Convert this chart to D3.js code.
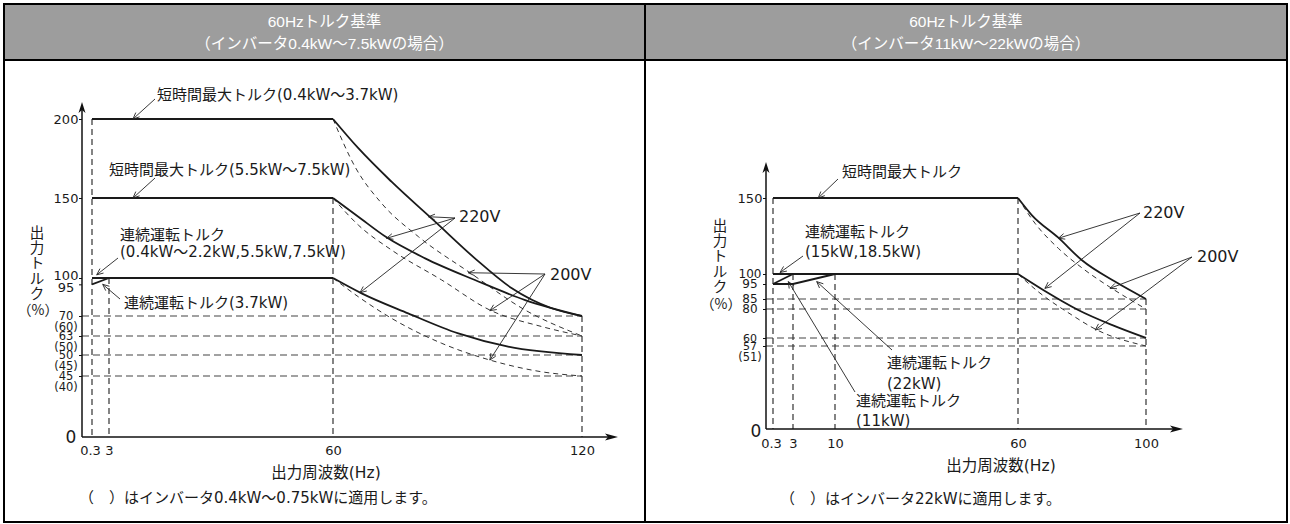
<!DOCTYPE html>
<html><head><meta charset="utf-8">
<script src="https://cdn.jsdelivr.net/npm/d3@7"></script>
<style>
body{margin:0;background:#fff;}
svg text{font-family:"DejaVu Sans","Noto Sans CJK JP",sans-serif;fill:#1a1a1a;}
</style></head><body>
<svg id="c" width="1290" height="524"></svg>
<script>
// ================= DATA =================
const headerLeft  = ["60Hzトルク基準", "（インバータ0.4kW〜7.5kWの場合）"];
const headerRight = ["60Hzトルク基準", "（インバータ11kW〜22kWの場合）"];
const yTitleChars = ["出","力","ト","ル","ク"];
const yTitleUnit  = "（%）";
const xTitle      = "出力周波数(Hz)";
const footLeft    = "（　）はインバータ0.4kW〜0.75kWに適用します。";
const footRight   = "（　）はインバータ22kWに適用します。";

// ---- left panel (0.4kW - 7.5kW) ----
const L_xTicks       = [0.3, 3, 60, 120];
const L_xTickLabels  = ["0.3", "3", "60", "120"];
const L_yTicks       = [200, 150, 100, 95, 70, 63, 50, 45];
const L_yParenOf     = [70, 63, 50, 45];
const L_yParenLabels = ["(60)", "(50)", "(45)", "(40)"];
const L_hDashed      = [70, 63, 50, 45];
const L_vDashed      = [[0.3, 200], [3, 100], [60, 150], [120, 70]];
const L_flatSolid = [
  [[0.3, 200], [60, 200]],
  [[0.3, 150], [60, 150]],
  [[0.3, 100], [60, 100]],
  [[0.3, 95], [3, 100]]
];
const L_curve220 = [
  [[60,200],[66.1,181.5],[74.1,160.3],[84.6,135.2],[94.2,112.3],[103.1,91.9],[112.7,76.1],[120,70]],
  [[60,150],[66.1,138.3],[72.9,125.4],[82.2,112.3],[94.2,98.4],[106.3,82.6],[120,70]],
  [[60,100],[66.9,87.9],[78.1,72.1],[90.2,63.9],[102.2,55.7],[120,50]]
];
const L_curve200 = [
  [[60,200],[65.3,169.8],[71.7,146.7],[80.6,125.8],[93.0,103.3],[106.3,74.7],[120,63]],
  [[60,150],[66.1,133.1],[74.1,117.5],[86.2,98.4],[97.8,74.7],[110.3,66.3],[120,63]],
  [[60,100],[66.1,85.2],[74.1,69.2],[86.2,58.0],[97.8,48.8],[110.3,46.0],[120,45]]
];
const L_noteText = [
  ["短時間最大トルク(0.4kW〜3.7kW)"],
  ["短時間最大トルク(5.5kW〜7.5kW)"],
  ["連続運転トルク", "(0.4kW〜2.2kW,5.5kW,7.5kW)"],
  ["連続運転トルク(3.7kW)"],
  ["220V"],
  ["200V"]
];
const L_noteTips = [
  [[9.1, 200]],
  [[9.1, 150]],
  [[1.05, 102]],
  [[2.0, 95]],
  [[83.0, 138.3], [72.9, 124.8], [66.5, 88.4]],
  [[92.6, 103.3], [97.8, 74.2], [97.8, 48.8]]
];

// ---- right panel (11kW - 22kW) ----
const R_xTicks       = [0.3, 3, 10, 60, 100];
const R_xTickLabels  = ["0.3", "3", "10", "60", "100"];
const R_yTicks       = [150, 100, 95, 85, 80, 60, 57];
const R_yParenOf     = [57];
const R_yParenLabels = ["(51)"];
const R_hDashed      = [85, 80, 60, 57];
const R_vDashed      = [[0.3, 150], [3, 100], [10, 100], [60, 150], [100, 85]];
const R_flatSolid = [
  [[0.3, 150], [60, 150]],
  [[0.3, 100], [60, 100]],
  [[0.3, 95], [3, 100]],
  [[0.3, 95], [3, 95], [10, 100]]
];
const R_curve220 = [
  [[60,150],[64.3,138.8],[72.6,123.9],[79.9,109.2],[90.3,96.2],[100,85]],
  [[60,100],[68.4,90.3],[78.8,79.3],[89.3,69.0],[100,60]]
];
const R_curve200 = [
  [[60,150],[65.3,133.4],[72.6,116.9],[80.9,102.6],[89.3,92.1],[100,80]],
  [[60,100],[66.3,89.9],[76.8,75.9],[84.1,66.2],[100,57]]
];
const R_noteText = [
  ["短時間最大トルク"],
  ["連続運転トルク", "(15kW,18.5kW)"],
  ["連続運転トルク", "(22kW)"],
  ["連続運転トルク", "(11kW)"],
  ["220V"],
  ["200V"]
];
const R_noteTips = [
  [[7.2, 150]],
  [[1.25, 101]],
  [[6.95, 96.2]],
  [[2.37, 96.2]],
  [[72.6, 123.5], [68.4, 92.1]],
  [[88.75, 92.1], [84.1, 65.5]]
];

// ================= LAYOUT =================
const svg = d3.select("#c");
const BORDER = {x0: 4, x1: 1287, y0: 4, y1: 522, mid: 645, head: 60};

const panels = [
  {
    header: headerLeft, foot: footLeft,
    x: d3.scaleLinear().domain([0, 0.3, 3, 60, 120]).range([82, 92, 109, 333, 582]),
    y: d3.scaleLinear().domain([0, 45, 50, 63, 70, 100, 150, 200]).range([437, 376, 355, 336, 316, 278, 198, 119]),
    xMax: 120, yArrowTop: 102, xArrowEnd: 618,
    xTicks: L_xTicks, xTickLabels: L_xTickLabels,
    yTicks: L_yTicks, yParenOf: L_yParenOf, yParenLabels: L_yParenLabels,
    hDashed: L_hDashed, vDashed: L_vDashed, flat: L_flatSolid,
    c220: L_curve220, c200: L_curve200,
    noteText: L_noteText, noteTips: L_noteTips,
    noteLayout: [
      {x: 157, y: 95,  tail: [155, 99]},
      {x: 109, y: 170, tail: [155, 178]},
      {x: 120, y: 235, lh: 17, tail: [118, 258]},
      {x: 124, y: 303, tail: [120, 299]},
      {x: 459, y: 216, tail: [455, 218], big: true},
      {x: 550, y: 274, tail: [545, 274], big: true}
    ],
    yLabelX: 66, zeroX: 71, zeroDy: 0, yTitleX: 37, yTitleY0: 233, yUnitY: 310,
    xLabelY: 450, xTitleX: 326, xTitleY: 473, footX: 79, footY: 498,
    yNudge: {100: -3, 95: 3},
    ySize: (v) => v >= 95 ? 13 : 11.5
  },
  {
    header: headerRight, foot: footRight,
    x: d3.scaleLinear().domain([0, 0.3, 3, 10, 60, 100]).range([766, 773, 793, 835, 1018, 1146]),
    y: d3.scaleLinear().domain([0, 57, 60, 80, 85, 95, 100, 150]).range([429, 346, 338, 309, 299, 284, 274, 198]),
    xMax: 100, yArrowTop: 162, xArrowEnd: 1183,
    xTicks: R_xTicks, xTickLabels: R_xTickLabels,
    yTicks: R_yTicks, yParenOf: R_yParenOf, yParenLabels: R_yParenLabels,
    hDashed: R_hDashed, vDashed: R_vDashed, flat: R_flatSolid,
    c220: R_curve220, c200: R_curve200,
    noteText: R_noteText, noteTips: R_noteTips,
    noteLayout: [
      {x: 842, y: 172, tail: [838, 179]},
      {x: 805, y: 232, lh: 20, tail: [803, 256]},
      {x: 887, y: 363, lh: 20.5, tail: [892, 350]},
      {x: 856, y: 401, lh: 20, tail: [855, 392]},
      {x: 1143, y: 212, tail: [1140, 213], big: true},
      {x: 1197, y: 256, tail: [1192, 257], big: true}
    ],
    yLabelX: 750, zeroX: 756, zeroDy: 2, yTitleX: 720, yTitleY0: 226, yUnitY: 304,
    xLabelY: 443, xTitleX: 1001, xTitleY: 466, footX: 780, footY: 499,
    yNudge: {},
    ySize: (v) => (v === 150 ? 13 : v >= 80 ? 12 : 11)
  }
];

// ---- frame & headers ----
const frame = svg.append("g");
frame.append("rect").attr("x", BORDER.x0).attr("y", BORDER.y0)
  .attr("width", BORDER.mid - BORDER.x0).attr("height", BORDER.head - BORDER.y0).attr("fill", "#9d9d9d");
frame.append("rect").attr("x", BORDER.mid).attr("y", BORDER.y0)
  .attr("width", BORDER.x1 - BORDER.mid).attr("height", BORDER.head - BORDER.y0).attr("fill", "#9d9d9d");
[[headerLeft, (BORDER.x0 + BORDER.mid) / 2], [headerRight, (BORDER.mid + BORDER.x1) / 2]].forEach(([lines, cx]) => {
  lines.forEach((t, i) => {
    frame.append("text").attr("x", cx).attr("y", 22 + i * 22).attr("dy", "0.35em")
      .attr("text-anchor", "middle").style("font-size", "15.5px")
      .style("font-family", "'Liberation Sans','Noto Sans CJK JP',sans-serif")
      .style("fill", "#fff").text(t);
  });
});

// ---- panels ----
const line = d3.line();
panels.forEach(p => {
  const g = svg.append("g");
  const X = p.x, Y = p.y;
  const x0 = X(0), y0 = Y(0);

  // horizontal dashed reference lines
  g.selectAll(".hd").data(p.hDashed).join("line")
    .attr("x1", x0).attr("x2", X(p.xMax)).attr("y1", d => Y(d)).attr("y2", d => Y(d))
    .attr("stroke", "#444").attr("stroke-width", 1.2).attr("stroke-dasharray", "7,4");
  // vertical dashed reference lines
  g.selectAll(".vd").data(p.vDashed).join("line")
    .attr("x1", d => X(d[0])).attr("x2", d => X(d[0])).attr("y1", d => Y(d[1])).attr("y2", y0)
    .attr("stroke", "#333").attr("stroke-width", 1.2).attr("stroke-dasharray", "6,4");

  // 200V dashed curves
  const curveGen = d3.line().x(d => X(d[0])).y(d => Y(d[1])).curve(d3.curveMonotoneX);
  g.selectAll(".c200").data(p.c200).join("path")
    .attr("d", curveGen).attr("fill", "none").attr("stroke", "#333")
    .attr("stroke-width", 1).attr("stroke-dasharray", "5,4");
  // 220V solid curves
  g.selectAll(".c220").data(p.c220).join("path")
    .attr("d", curveGen).attr("fill", "none").attr("stroke", "#1a1a1a").attr("stroke-width", 1.8);
  // flat solid segments
  const linGen = d3.line().x(d => X(d[0])).y(d => Y(d[1]));
  g.selectAll(".flat").data(p.flat).join("path")
    .attr("d", linGen).attr("fill", "none").attr("stroke", "#1a1a1a").attr("stroke-width", 1.8);

  // axes lines + arrows
  g.append("line").attr("x1", x0).attr("x2", x0).attr("y1", y0).attr("y2", p.yArrowTop + 6)
    .attr("stroke", "#111").attr("stroke-width", 1.5);
  g.append("path").attr("d", `M${x0},${p.yArrowTop} L${x0 - 3.5},${p.yArrowTop + 11} L${x0},${p.yArrowTop + 8} L${x0 + 3.5},${p.yArrowTop + 11}Z`).attr("fill", "#111");
  g.append("line").attr("x1", x0).attr("x2", p.xArrowEnd - 6).attr("y1", y0).attr("y2", y0)
    .attr("stroke", "#111").attr("stroke-width", 1.5);
  g.append("path").attr("d", `M${p.xArrowEnd},${y0} L${p.xArrowEnd - 13},${y0 - 3.5} L${p.xArrowEnd - 10},${y0} L${p.xArrowEnd - 13},${y0 + 3.5}Z`).attr("fill", "#111");

  // x axis tick labels via d3 axis
  const xa = g.append("g").attr("transform", `translate(0,${y0})`)
    .call(d3.axisBottom(X).tickValues(p.xTicks).tickSize(0)
      .tickFormat((d, i) => p.xTickLabels[i]));
  xa.select(".domain").remove();
  xa.selectAll("text").style("font-size", "13px").attr("fill", "#1a1a1a")
    .attr("dy", "0.35em").attr("y", p.xLabelY - y0)
    .attr("x", d => d === 0.3 ? -2 : 0);

  // y axis tick labels via d3 axis
  const ya = g.append("g").attr("transform", `translate(${x0},0)`)
    .call(d3.axisLeft(Y).tickValues(p.yTicks).tickSize(3).tickPadding(4).tickFormat(d3.format("d")));
  ya.select(".domain").remove();
  ya.selectAll("line").attr("stroke", "#111");
  ya.selectAll("text").attr("text-anchor", "middle").attr("x", p.yLabelX - x0)
    .attr("y", d => p.yNudge[d] || 0)
    .style("font-size", d => p.ySize(d) + "px").attr("fill", "#1a1a1a");
  // parenthesised values
  g.selectAll(".par").data(p.yParenOf).join("text")
    .attr("x", p.yLabelX).attr("y", d => Y(d) + 10.5).attr("dy", "0.35em")
    .attr("text-anchor", "middle").style("font-size", "11.5px").text((d, i) => p.yParenLabels[i]);
  // origin 0
  g.append("text").attr("x", p.zeroX).attr("y", y0 + p.zeroDy).attr("dy", "0.35em")
    .attr("text-anchor", "middle").style("font-size", "17px").text(d3.format("d")(Y.domain()[0]));

  // y axis title (vertical)
  yTitleChars.forEach((ch, i) => {
    g.append("text").attr("x", p.yTitleX).attr("y", p.yTitleY0 + i * 15.2).attr("dy", "0.35em")
      .attr("text-anchor", "middle").style("font-size", "14.5px").style("font-family", "Noto Sans CJK JP").text(ch);
  });
  g.append("text").attr("x", p.yTitleX + 1).attr("y", p.yUnitY).attr("dy", "0.35em")
    .attr("text-anchor", "middle").style("font-size", "14px").style("font-family", "Noto Sans CJK JP").text(yTitleUnit);

  // x title & footnote
  g.append("text").attr("x", p.xTitleX).attr("y", p.xTitleY).attr("dy", "0.35em")
    .attr("text-anchor", "middle").style("font-size", "15.5px").text(xTitle);
  g.append("text").attr("x", p.footX).attr("y", p.footY).attr("dy", "0.35em")
    .style("font-size", "15px").text(p.foot);

  // annotations with leader arrows
  p.noteText.forEach((lines, i) => {
    const L = p.noteLayout[i];
    lines.forEach((t, j) => {
      g.append("text").attr("x", L.x).attr("y", L.y + j * (L.lh || 18)).attr("dy", "0.35em")
        .style("font-size", L.big ? "16px" : "15px").text(t);
    });
    p.noteTips[i].forEach(tip => {
      const tx = X(tip[0]), ty = Y(tip[1]);
      const [sx, sy] = L.tail;
      g.append("line").attr("x1", sx).attr("y1", sy).attr("x2", tx).attr("y2", ty)
        .attr("stroke", "#222").attr("stroke-width", 0.9);
      const ang = Math.atan2(ty - sy, tx - sx);
      const a = 0.42, len = 7;
      const p1 = [tx - len * Math.cos(ang - a), ty - len * Math.sin(ang - a)];
      const p2 = [tx - len * Math.cos(ang + a), ty - len * Math.sin(ang + a)];
      g.append("path").attr("d", line([p1, [tx, ty], p2])).attr("fill", "none")
        .attr("stroke", "#222").attr("stroke-width", 0.9);
    });
  });
});

// ---- borders on top ----
const bd = svg.append("g").attr("stroke", "#000").attr("stroke-width", 2).attr("fill", "none");
bd.append("rect").attr("x", BORDER.x0).attr("y", BORDER.y0)
  .attr("width", BORDER.x1 - BORDER.x0).attr("height", BORDER.y1 - BORDER.y0);
bd.append("line").attr("x1", BORDER.x0).attr("x2", BORDER.x1).attr("y1", BORDER.head).attr("y2", BORDER.head);
bd.append("line").attr("x1", BORDER.mid).attr("x2", BORDER.mid).attr("y1", BORDER.y0).attr("y2", BORDER.y1);
</script>
</body></html>
